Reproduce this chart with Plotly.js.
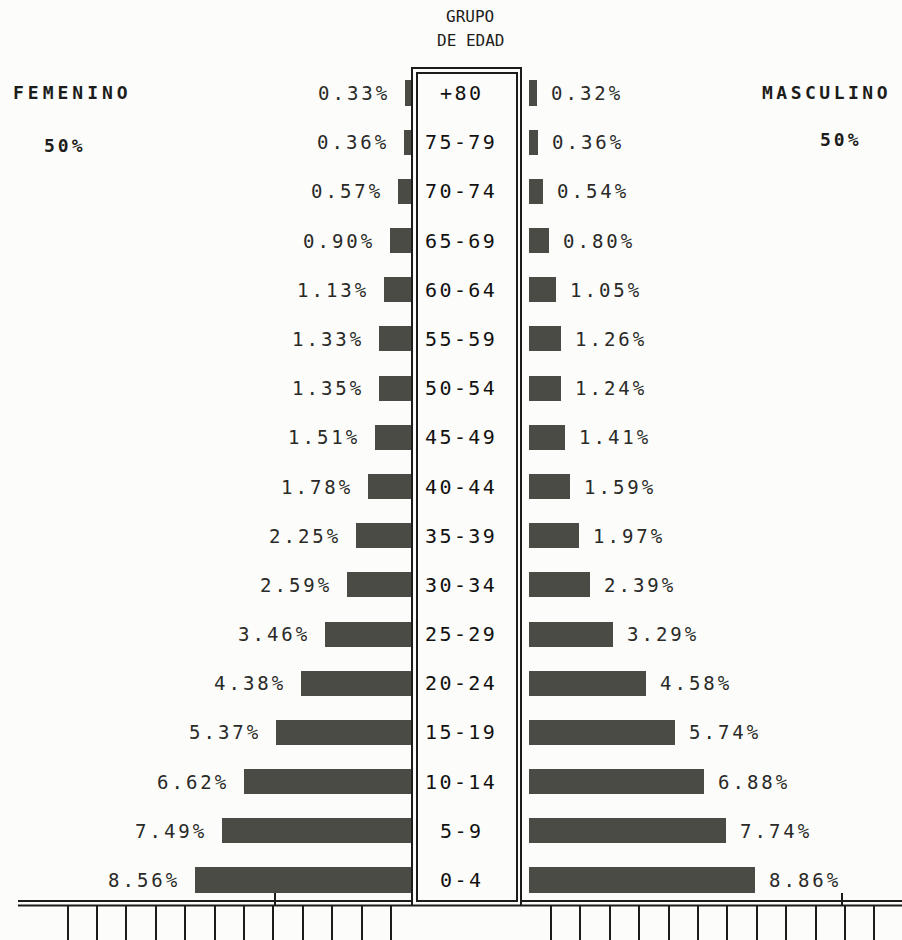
<!DOCTYPE html>
<html>
<head>
<meta charset="utf-8">
<script src="https://cdn.plot.ly/plotly-3.0.1.min.js"></script>
<style>
  html, body { margin: 0; padding: 0; background: #fcfcfa; }
  #chart { width: 902px; height: 940px; }
</style>
</head>
<body>
<div id="chart"></div>
<script>
// ---- data (bottom to top) ----
const grupos = ['0-4','5-9','10-14','15-19','20-24','25-29','30-34','35-39','40-44','45-49','50-54','55-59','60-64','65-69','70-74','75-79','+80'];
const femenino = [8.56,7.49,6.62,5.37,4.38,3.46,2.59,2.25,1.78,1.51,1.35,1.33,1.13,0.90,0.57,0.36,0.33];
const masculino = [8.86,7.74,6.88,5.74,4.58,3.29,2.39,1.97,1.59,1.41,1.24,1.26,1.05,0.80,0.54,0.36,0.32];
const totalFem = '50%';
const totalMasc = '50%';
const tituloCentro = ['GRUPO', 'DE EDAD'];
const tituloFem = 'FEMENINO';
const tituloMasc = 'MASCULINO';

// ---- geometry / style ----
const W = 902, H = 940;
const px = x => x / W;
const py = y => 1 - y / H;
const PXPCT = 25.5;          // pixels per percent
const leftBase = 413, rightBase = 529;
const ink = '#1c1c1a';
const barColor = '#4b4b45';
const FONT = '"DejaVu Sans Mono", "Liberation Mono", monospace';

const nTicks = 12, tick0 = 0.863, dtick = 1.153;
const tickVals = [];
for (let k = 0; k < nTicks; k++) tickVals.push(tick0 + k * dtick);

function sp(t, s) { return '<span style="letter-spacing:' + s + 'px">' + t + '</span>'; }

const traces = [
  {
    type: 'bar', orientation: 'h', x: femenino, y: grupos,
    xaxis: 'x', yaxis: 'y', width: 0.51,
    marker: { color: barColor, line: { width: 0 } },
    hoverinfo: 'skip', showlegend: false
  },
  {
    type: 'bar', orientation: 'h', x: masculino, y: grupos,
    xaxis: 'x2', yaxis: 'y', width: 0.51,
    marker: { color: barColor, line: { width: 0 } },
    hoverinfo: 'skip', showlegend: false
  }
];

const annotations = [];
const pctFont = { family: FONT, size: 19, color: '#2a2a28' };
const ageFont = { family: FONT, size: 20, color: '#111110' };

// y positions given as category index (avoids "+80" being read as a number)
grupos.forEach((g, i) => {
  annotations.push({
    xref: 'x', yref: 'y', x: femenino[i], y: i,
    text: sp(femenino[i].toFixed(2) + '%', 3),
    showarrow: false, xanchor: 'right', yanchor: 'middle', xshift: -13,
    font: pctFont
  });
  annotations.push({
    xref: 'x2', yref: 'y', x: masculino[i], y: i,
    text: sp(masculino[i].toFixed(2) + '%', 3),
    showarrow: false, xanchor: 'left', yanchor: 'middle', xshift: 12,
    font: pctFont
  });
  annotations.push({
    xref: 'paper', yref: 'y', x: px(461), y: i,
    text: sp(g, 2.4),
    showarrow: false, xanchor: 'center', yanchor: 'middle',
    font: ageFont
  });
});

const topRow = grupos.length - 1, secondRow = grupos.length - 2;

// header texts
annotations.push({ xref: 'paper', yref: 'paper', x: px(470), y: py(16), text: tituloCentro[0],
  showarrow: false, xanchor: 'center', yanchor: 'middle', font: { family: FONT, size: 16, color: ink } });
annotations.push({ xref: 'paper', yref: 'paper', x: px(470), y: py(41), text: tituloCentro[1],
  showarrow: false, xanchor: 'center', yanchor: 'middle', font: { family: FONT, size: 16, color: ink } });
annotations.push({ xref: 'paper', yref: 'y', x: px(72), y: topRow, text: '<b>' + sp(tituloFem, 4) + '</b>',
  showarrow: false, xanchor: 'center', yanchor: 'middle', font: { family: FONT, size: 18, color: ink } });
annotations.push({ xref: 'paper', yref: 'y', x: px(826), y: topRow, text: '<b>' + sp(tituloMasc, 3.5) + '</b>',
  showarrow: false, xanchor: 'center', yanchor: 'middle', font: { family: FONT, size: 18, color: ink } });
annotations.push({ xref: 'paper', yref: 'y', x: px(65), y: secondRow, yshift: -3, text: '<b>' + sp(totalFem, 3) + '</b>',
  showarrow: false, xanchor: 'center', yanchor: 'middle', font: { family: FONT, size: 18, color: ink } });
annotations.push({ xref: 'paper', yref: 'y', x: px(841), y: secondRow, yshift: 3, text: '<b>' + sp(totalMasc, 3) + '</b>',
  showarrow: false, xanchor: 'center', yanchor: 'middle', font: { family: FONT, size: 18, color: ink } });

// frame shapes (central box and base line, doubled)
function line(x0, y0, x1, y1, w) {
  return { type: 'line', xref: 'paper', yref: 'paper', x0: px(x0), y0: py(y0), x1: px(x1), y1: py(y1),
    line: { color: ink, width: w || 2 } };
}
const shapes = [
  // outer box
  line(412, 68, 412, 906), line(521, 68, 521, 906), line(411, 68, 522, 68),
  // inner box
  line(417, 73, 417, 902), line(517, 73, 517, 902), line(416, 73, 518, 73), line(417, 901, 517, 901),
  // base lines
  line(18, 901, 412, 901), line(521, 901, 902, 901),
  line(18, 905.5, 902, 905.5),
  // tall marks
  line(275, 893, 275, 905), line(842, 893, 842, 905)
];

const axBase = {
  showgrid: false, zeroline: false, showline: false,
  ticks: 'outside', tickvals: tickVals, ticklen: 35, tickwidth: 2, tickcolor: ink,
  showticklabels: false, fixedrange: true, anchor: 'y'
};

const layout = {
  width: W, height: H,
  margin: { l: 0, r: 0, t: 0, b: 0, pad: 0 },
  paper_bgcolor: '#fcfcfa', plot_bgcolor: 'rgba(0,0,0,0)',
  showlegend: false,
  bargap: 0,
  xaxis: Object.assign({}, axBase, { domain: [0, px(leftBase)], range: [leftBase / PXPCT, 0] }),
  xaxis2: Object.assign({}, axBase, { domain: [px(rightBase), 1], range: [0, (W - rightBase) / PXPCT] }),
  yaxis: {
    type: 'category', categoryorder: 'array', categoryarray: grupos,
    domain: [1 - 904.6 / H, 1 - 68.4 / H], range: [-0.5, grupos.length - 0.5],
    showgrid: false, zeroline: false, showline: false, showticklabels: false, ticks: '', fixedrange: true
  },
  annotations: annotations,
  shapes: shapes
};

Plotly.newPlot('chart', traces, layout, { staticPlot: true, displayModeBar: false });
</script>
</body>
</html>
